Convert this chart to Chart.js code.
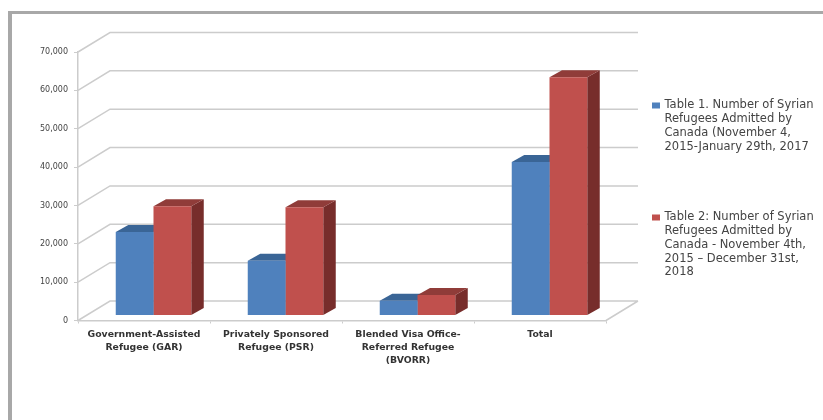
<!DOCTYPE html>
<html>
<head>
<meta charset="utf-8">
<script src="https://cdn.jsdelivr.net/npm/chart.js@4"></script>
<style>
    html, body { margin: 0; padding: 0; background: #fff; overflow: hidden; }
    #frame { position: absolute; left: 8px; top: 11px; width: 815px; height: 409px; box-sizing: border-box; border-top: 3px solid #a8a8a8; border-left: 4px solid #a8a8a8; }
    #dataPengungsi { position: absolute; left: 0; top: 0; }
</style>
</head>
<body>
<div id="frame"></div>
<canvas id="dataPengungsi" width="823" height="420"></canvas>
<script>
//Syrian refugees admitted by Canada//

const categories = [
    ['Government-Assisted', 'Refugee (GAR)'],
    ['Privately Sponsored', 'Refugee (PSR)'],
    ['Blended Visa Office-', 'Referred Refugee', '(BVORR)'],
    'Total'
];
const table1Values = [21800, 14300, 3850, 40050];
const table2Values = [28500, 28250, 5350, 62100];
const table1Lines = ['Table 1. Number of Syrian', 'Refugees Admitted by', 'Canada (November 4,', '2015-January 29th, 2017'];
const table2Lines = ['Table 2: Number of Syrian', 'Refugees Admitted by', 'Canada - November 4th,', '2015 \u2013 December 31st,', '2018'];

const gridColor = '#cccccc';
const textColor = '#444444';
const wallDepth = { x: 32, y: -19.5 };  // back wall offset from the front plane
const barShift = { x: 9.5, y: -5 };     // bars stand a little inside the floor
const barDepth = { x: 12.5, y: -7 };

// back wall lines, left wall diagonals and the right edge of the floor
const wallsPlugin = {
    id: 'walls',
    beforeDatasetsDraw(chart) {
        const { ctx, chartArea, scales } = chart;
        ctx.save();
        ctx.strokeStyle = gridColor;
        ctx.lineWidth = 1.5;
        ctx.beginPath();
        scales.y.ticks.forEach(tick => {
            const y = scales.y.getPixelForValue(tick.value);
            ctx.moveTo(chartArea.left, y);
            ctx.lineTo(chartArea.left + wallDepth.x, y + wallDepth.y);
            ctx.lineTo(chartArea.right + wallDepth.x, y + wallDepth.y);
        });
        ctx.moveTo(chartArea.right, chartArea.bottom);
        ctx.lineTo(chartArea.right + wallDepth.x, chartArea.bottom + wallDepth.y);
        ctx.stroke();
        ctx.restore();
    }
};

// tops and sides of the bars, the front faces come from Chart.js itself
const barDepthPlugin = {
    id: 'barDepth',
    beforeDatasetsDraw(chart) {
        const { ctx } = chart;
        ctx.save();
        ctx.translate(barShift.x, barShift.y);
        chart.data.datasets.forEach((ds, i) => {
            chart.getDatasetMeta(i).data.forEach(bar => {
                const left = bar.x - bar.width / 2;
                const right = bar.x + bar.width / 2;
                ctx.fillStyle = ds.sideColor;
                ctx.beginPath();
                ctx.moveTo(right, bar.y);
                ctx.lineTo(right + barDepth.x, bar.y + barDepth.y);
                ctx.lineTo(right + barDepth.x, bar.base + barDepth.y);
                ctx.lineTo(right, bar.base);
                ctx.closePath();
                ctx.fill();
                ctx.fillStyle = ds.topColor;
                ctx.beginPath();
                ctx.moveTo(left, bar.y);
                ctx.lineTo(left + barDepth.x, bar.y + barDepth.y);
                ctx.lineTo(right + barDepth.x, bar.y + barDepth.y);
                ctx.lineTo(right, bar.y);
                ctx.closePath();
                ctx.fill();
            });
        });
    },
    afterDatasetsDraw(chart) {
        chart.ctx.restore();
    }
};

// legend on the right, entries wrap over several lines
const sideLegendPlugin = {
    id: 'sideLegend',
    afterDraw(chart) {
        const { ctx } = chart;
        const entries = [
            { lines: table1Lines, color: chart.data.datasets[0].backgroundColor, top: 105.5 },
            { lines: table2Lines, color: chart.data.datasets[1].backgroundColor, top: 217.5 }
        ];
        ctx.save();
        ctx.font = '11.5px "DejaVu Sans"';
        ctx.textBaseline = 'middle';
        entries.forEach(entry => {
            ctx.fillStyle = entry.color;
            ctx.fillRect(652, entry.top - 3, 8, 6);
            ctx.fillStyle = textColor;
            entry.lines.forEach((line, i) => {
                ctx.fillText(line, 664.5, entry.top + i * 13.7);
            });
        });
        ctx.restore();
    }
};

const ctx = document.getElementById('dataPengungsi').getContext('2d');

const myChart = new Chart(ctx, {
    type: 'bar',
    data: {
        labels: categories,
        datasets: [{
            label: table1Lines.join(' '),
            data: table1Values,
            backgroundColor: '#4f81bd',
            topColor: '#3a6596',
            sideColor: '#335a87',
            clip: false
        }, {
            label: table2Lines.join(' '),
            data: table2Values,
            backgroundColor: '#c0504d',
            topColor: '#903c39',
            sideColor: '#772d2b',
            clip: false
        }]
    },
    plugins: [wallsPlugin, barDepthPlugin, sideLegendPlugin],
    options: {
        responsive: false,
        animation: false,
        layout: { padding: { top: 52, right: 217 } },
        plugins: {
            legend: { display: false },
            tooltip: { enabled: false }
        },
        datasets: {
            bar: { barPercentage: 1, categoryPercentage: 0.572 }
        },
        scales: {
            x: {
                afterFit(scale) { scale.height = 99.5; },
                grid: { drawOnChartArea: false, color: gridColor, tickLength: 3 },
                border: { color: gridColor, width: 1.5 },
                ticks: {
                    color: '#333333',
                    maxRotation: 0,
                    autoSkip: false,
                    padding: 5,
                    font: { family: '"DejaVu Sans"', size: 9.3, weight: 'bold', lineHeight: 1.4 }
                }
            },
            y: {
                min: 0,
                max: 70000,
                afterFit(scale) { scale.width = 78; },
                grid: { drawOnChartArea: false, color: gridColor, tickLength: 4 },
                border: { color: gridColor, width: 1.5 },
                ticks: {
                    stepSize: 10000,
                    color: textColor,
                    padding: 6,
                    font: { family: '"DejaVu Sans"', size: 8 },
                    callback: value => value.toLocaleString('en-US')
                }
            }
        }
    }
});
</script>
</body>
</html>
